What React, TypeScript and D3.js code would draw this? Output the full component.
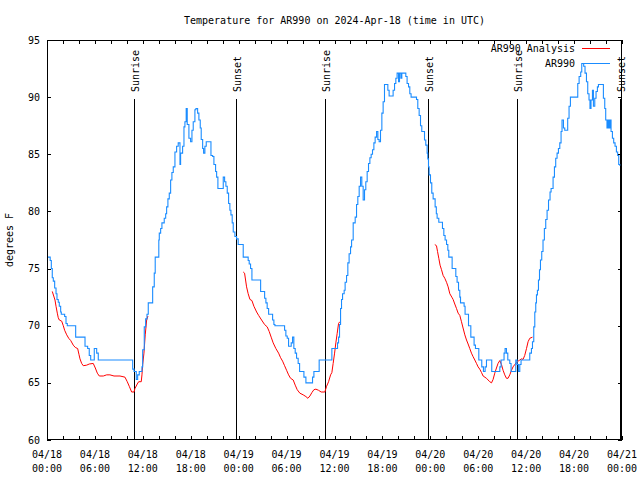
import React from "react";
import * as d3 from "d3";

// ---- data (hours since 2024-04-18 00:00 UTC) ----
const obsHours = [
  0, 0.4, 0.54, 0.66, 0.79, 0.96, 1.13, 1.25, 1.41, 1.54, 1.71, 1.79, 2.21, 2.38, 2.54, 3.59, 4.76, 5.09, 5.29, 5.47,
  5.92, 6.22, 6.42, 10.73, 10.9, 11.18, 11.35, 11.55, 11.89, 11.98, 12.18, 12.35, 12.52, 12.68, 13.23, 13.43, 13.55,
  14.0, 14.06, 14.23, 14.39, 14.68, 14.86, 14.98, 15.14, 15.31, 15.48, 15.64, 15.81, 16.02, 16.23, 16.43, 16.65,
  16.73, 16.98, 17.15, 17.27, 17.43, 17.56, 17.77, 17.98, 18.15, 18.31, 18.52, 18.65, 18.86, 19.02, 19.19, 19.31,
  19.49, 19.61, 19.77, 19.94, 20.53, 20.74, 20.9, 21.11, 21.24, 21.4, 22.07, 22.24, 22.4, 22.57, 22.74, 22.9, 23.03,
  23.19, 23.32, 23.53, 23.74, 23.94, 24.57, 25.19, 25.32, 25.49, 25.66, 26.75, 27.25, 27.41, 27.57, 27.75, 28.25,
  28.41, 28.54, 29.75, 29.91, 30.08, 30.25, 30.58, 30.75, 30.91, 31.08, 31.25, 31.45, 31.63, 32.17, 32.42, 33.25,
  33.42, 34.08, 35.67, 36.38, 36.51, 36.63, 36.76, 36.88, 37.01, 37.21, 37.33, 37.51, 37.67, 37.83, 38.01, 38.14,
  38.34, 38.59, 38.76, 38.92, 39.09, 39.26, 39.42, 39.59, 39.76, 39.92, 40.09, 40.26, 40.43, 40.59, 40.76, 40.93,
  41.09, 41.27, 41.43, 41.59, 41.76, 41.93, 42.09, 42.26, 42.68, 42.84, 43.34, 43.52, 43.68, 43.84, 44.02, 44.14,
  44.31, 44.43, 44.93, 45.09, 45.27, 45.43, 45.59, 46.27, 46.43, 46.6, 46.77, 46.93, 47.27, 47.43, 47.6, 47.68,
  47.77, 47.85, 48.02, 48.18, 48.35, 48.6, 48.75, 48.85, 49.06, 49.52, 49.69, 49.85, 50.03, 50.19, 50.31, 50.73,
  51.19, 51.35, 51.53, 51.69, 51.78, 52.23, 52.35, 52.78, 53.07, 53.48, 53.65, 54.07, 54.44, 54.65, 54.86, 55.03,
  55.69, 56.7, 56.86, 57.23, 57.36, 57.53, 57.7, 57.95, 58.11, 58.7, 58.86, 59.03, 59.2, 59.36, 60.45, 60.66, 60.79,
  60.95, 61.08, 61.2, 61.29, 61.41, 61.54, 61.67, 61.79, 61.95, 62.11, 62.28, 62.45, 62.62, 62.8, 62.99, 63.12,
  63.37, 63.54, 63.7, 63.87, 64.04, 64.21, 64.37, 64.49, 64.67, 64.83, 65.2, 65.37, 65.54, 66.46, 66.63, 66.83,
  66.96, 67.2, 67.37, 67.55, 67.71, 67.87, 67.99, 68.12, 68.3, 68.42, 68.59, 68.75, 68.92, 69.05, 69.67, 69.84,
  69.96, 70.12, 70.25, 70.38, 70.5, 70.63, 70.8, 70.96, 71.13, 71.3, 71.46, 71.59, 71.72,
];
const obsTemps = [
  76.0, 75.7, 75.0, 74.2, 73.9, 73.3, 72.8, 72.3, 72.05, 71.7, 71.2, 71.0, 70.8, 70.2, 70.0, 69.0, 68.2, 68.0, 67.4, 67.0,
  68.0, 67.6, 67.0, 66.2, 66.0, 65.3, 65.7, 66.0, 66.4, 67.9, 69.9, 70.6, 71.0, 72.0, 73.4, 74.6, 76.0,
  77.5, 78.1, 78.5, 79.0, 79.4, 79.8, 80.4, 81.1, 81.6, 82.75, 83.4, 83.9, 85.2, 85.7, 86.0, 84.1,
  85.1, 85.7, 87.4, 87.85, 89.0, 87.6, 86.4, 86.1, 87.1, 87.85, 88.9, 89.0, 88.6, 88.0, 87.3, 86.3,
  85.5, 85.1, 85.7, 86.1, 84.9, 84.8, 84.1, 83.5, 83.0, 82.0, 83.0, 82.6, 82.2, 81.6, 80.7, 80.1, 79.7,
  79.0, 78.2, 77.8, 77.6, 77.1, 76.0, 75.7, 75.4, 75.0, 74.0, 73.0, 72.4, 72.0, 71.5, 71.0, 70.5,
  70.1, 70.0, 69.6, 69.1, 68.9, 68.2, 68.5, 69.0, 68.0, 67.6, 67.15, 66.7, 66.0, 65.5, 65.0, 65.5,
  66.0, 67.0, 68.0, 68.5, 69.0, 70.1, 71.5, 72.3, 72.8, 73.1, 73.8, 74.4, 75.5, 76.3, 76.9, 77.5,
  79.0, 79.5, 80.6, 81.3, 82.2, 83.0, 82.2, 81.0, 81.9, 82.6, 83.5, 84.2, 84.7, 85.0, 85.4, 86.0,
  86.5, 87.0, 86.3, 86.1, 87.1, 88.6, 89.6, 91.1, 90.6, 90.1, 90.6, 91.2, 91.65, 92.1, 91.35, 92.1,
  91.65, 92.1, 91.8, 91.2, 90.9, 90.3, 90.0, 89.8, 89.0, 88.4, 87.5, 87.0, 86.25, 85.8, 85.1, 84.6,
  83.9, 83.2, 82.5, 81.6, 81.1, 80.4, 79.8, 79.4, 79.05, 78.5, 77.9, 77.5, 77.1, 76.6, 76.0, 75.0,
  74.3, 73.8, 73.1, 72.5, 72.0, 71.7, 71.0, 70.0, 69.0, 68.3, 68.0, 67.0, 66.4, 66.0, 66.4, 67.0,
  66.0, 66.4, 67.0, 67.6, 68.0, 67.6, 67.0, 66.7, 66.0, 67.0, 66.6, 66.0, 66.6, 67.0, 67.6, 68.0, 68.6,
  69.9, 71.2, 72.0, 72.7, 73.1, 74.0, 74.9, 75.75, 76.5, 77.5, 78.5, 79.3, 80.1, 81.0, 81.7, 82.0,
  83.0, 83.9, 84.65, 85.1, 85.5, 86.0, 87.0, 88.0, 87.3, 87.1, 88.15, 89.2, 90.0, 91.2, 91.8, 92.2,
  92.95, 92.7, 92.1, 91.35, 90.3, 89.75, 89.0, 89.75, 90.6, 89.2, 89.9, 90.5, 90.9, 91.1, 89.9, 89.0,
  88.0, 87.3, 88.0, 87.3, 88.0, 87.0, 86.4, 86.0, 85.7, 85.2, 84.9, 84.1, 84.0,
];

// Analysis series: three night-time segments
const analysisHours1 = [
  0.66, 1.0, 1.13, 1.29, 1.41, 1.54, 1.84, 2.04, 2.21, 2.47, 2.72, 2.97, 3.29, 3.54, 3.84, 4.0, 4.13, 4.34, 4.54,
  4.97, 5.29, 5.79, 6.05, 6.3, 6.55, 7.05, 7.47, 7.88, 8.39, 9.14, 9.76, 10.05, 10.3, 10.6, 10.89, 11.01, 11.3,
  11.48, 11.8, 11.89, 11.98, 12.14, 12.3, 12.48, 12.64,
];
const analysisTemps1 = [
  73.0, 72.25, 71.7, 71.1, 70.7, 70.5, 70.4, 70.0, 69.6, 69.2, 68.9, 68.7, 68.3, 68.1, 68.0, 67.5, 67.1, 66.7, 66.5,
  66.55, 66.65, 66.7, 66.3, 65.85, 65.6, 65.6, 65.7, 65.7, 65.6, 65.6, 65.5, 65.1, 64.7, 64.2, 64.2, 64.5, 64.9,
  65.1, 65.1, 65.7, 66.6, 67.6, 69.2, 70.5, 70.85,
];
const analysisHours2 = [
  24.57, 24.74, 24.99, 25.19, 25.41, 25.66, 25.91, 26.25, 26.5, 26.87, 27.25, 27.57, 27.82, 28.07, 28.32, 28.66,
  29.0, 29.25, 29.5, 29.75, 30.0, 30.25, 30.5, 30.83, 31.08, 31.33, 31.66, 32.08, 32.42, 32.67, 32.92, 33.17, 33.42,
  33.67, 34.0, 34.33, 34.79, 35.01, 35.26, 35.51, 35.67, 35.83, 36.01, 36.17, 36.33, 36.51, 36.67,
];
const analysisTemps2 = [
  74.7, 74.6, 73.4, 72.8, 72.3, 72.2, 71.7, 71.2, 70.9, 70.5, 70.1, 69.9, 69.5, 69.0, 68.5, 68.0,
  67.6, 67.2, 66.9, 66.5, 66.1, 65.7, 65.4, 65.25, 64.8, 64.4, 64.1, 63.95, 63.8, 63.65, 63.85, 64.15, 64.4,
  64.45, 64.35, 64.2, 64.2, 64.7, 65.1, 65.7, 65.9, 66.7, 67.6, 68.5, 69.3, 70.2, 70.35,
];
const analysisHours3 = [
  48.56, 48.77, 48.9, 49.06, 49.22, 49.4, 49.6, 49.81, 50.03, 50.23, 50.44, 50.69, 50.85, 51.06, 51.28, 51.48,
  51.69, 51.9, 52.1, 52.32, 52.53, 52.73, 52.94, 53.15, 53.35, 53.57, 53.78, 53.98, 54.19, 54.41, 54.61, 55.03,
  55.44, 55.66, 55.86, 56.07, 56.28, 56.48, 56.7, 56.91, 57.11, 57.32, 57.53, 57.73, 57.95, 58.16, 58.36, 58.57,
  58.79, 58.99, 59.2, 59.41, 59.61, 59.82, 60.04, 60.24, 60.45, 60.79,
];
const analysisTemps3 = [
  77.1, 77.0, 76.5, 75.9, 75.3, 74.9, 74.4, 74.15, 73.8, 73.4, 72.8, 72.5, 72.3, 71.9, 71.5, 71.1,
  70.9, 70.35, 69.8, 69.2, 68.75, 68.4, 68.0, 67.6, 67.3, 67.0, 66.7, 66.4, 66.2, 65.9, 65.6, 65.4,
  65.1, 65.0, 65.3, 65.85, 66.3, 66.7, 66.95, 66.6, 66.1, 65.7, 65.4, 65.4, 65.7, 66.1, 66.4, 66.6,
  66.8, 66.9, 67.0, 67.1, 67.05, 67.4, 68.0, 68.6, 68.9, 69.0,
];

const sunEventHours = [10.93, 23.7, 34.84, 47.73, 58.87, 71.78];
const sunEventLabels = ["Sunrise", "Sunset", "Sunrise", "Sunset", "Sunrise", "Sunset"];

const xTickHours = [0, 6, 12, 18, 24, 30, 36, 42, 48, 54, 60, 66, 72];
const xTickDates = ["04/18", "04/18", "04/18", "04/18", "04/19", "04/19", "04/19", "04/19", "04/20", "04/20", "04/20", "04/20", "04/21"];
const xTickTimes = ["00:00", "06:00", "12:00", "18:00", "00:00", "06:00", "12:00", "18:00", "00:00", "06:00", "12:00", "18:00", "00:00"];
const yTicks = [60, 65, 70, 75, 80, 85, 90, 95];

const seriesNames = ["AR990 Analysis", "AR990"];
const seriesColors = ["#ff0000", "#1a8cff"];

const W = 640;
const H = 480;
const L = 47;
const R = 622;
const T = 40;
const B = 440;
const FONT = "'DejaVu Sans Mono', monospace";

export default function App() {
  const x = d3.scaleLinear().domain([0, 72]).range([L, R]);
  const y = d3.scaleLinear().domain([60, 95]).range([B, T]);

  const obs = obsHours.map((h, i) => [h, obsTemps[i]] as [number, number]);
  const stepLine = d3
    .line<[number, number]>()
    .x((d) => x(d[0]))
    .y((d) => y(d[1]))
    .curve(d3.curveStepAfter);
  const linLine = d3
    .line<[number, number]>()
    .x((d) => x(d[0]))
    .y((d) => y(d[1]));

  const analysisSegs = [
    [analysisHours1, analysisTemps1],
    [analysisHours2, analysisTemps2],
    [analysisHours3, analysisTemps3],
  ].map(([hs, ts]) => hs.map((h, i) => [h, ts[i]] as [number, number]));

  const minorX = d3.range(0, 72.001, 2);

  return (
    <svg width={W} height={H} style={{ display: "block", position: "absolute", left: 0, top: 0, background: "#fff" }} fontFamily={FONT} fontSize={10}>
      <rect x={0} y={0} width={W} height={H} fill="#fff" />
      {/* title */}
      <text x={(L + R) / 2} y={24} textAnchor="middle" fill="#000">
        Temperature for AR990 on 2024-Apr-18 (time in UTC)
      </text>

      {/* sunrise / sunset lines */}
      {sunEventHours.map((h, i) => {
        const px = Math.round(x(h)) + 0.5;
        return (
          <g key={"s" + i}>
            <line x1={px} x2={px} y1={99} y2={B} stroke="#000" strokeWidth={1} shapeRendering="crispEdges" />
            <text transform={`translate(${px + 4.5},92) rotate(-90)`} textAnchor="start" fill="#000">
              {sunEventLabels[i]}
            </text>
          </g>
        );
      })}

      {/* data */}
      <g clipPath="url(#plotclip)">
        {analysisSegs.map((seg, i) => (
          <path key={"a" + i} d={linLine(seg) || ""} fill="none" stroke={seriesColors[0]} strokeWidth={1} />
        ))}
        <path d={stepLine(obs) || ""} fill="none" stroke={seriesColors[1]} strokeWidth={1.1} />
      </g>
      <defs>
        <clipPath id="plotclip">
          <rect x={L} y={T} width={R - L} height={B - T} />
        </clipPath>
      </defs>

      {/* border */}
      <rect x={L + 0.5} y={T + 0.5} width={R - L - 1} height={B - T - 1} fill="none" stroke="#000" strokeWidth={1} shapeRendering="crispEdges" />

      {/* x ticks */}
      {minorX.map((h) => {
        const px = Math.round(x(h)) + 0.5;
        return (
          <g key={"xt" + h}>
            <line x1={px} x2={px} y1={B} y2={B - 4} stroke="#000" shapeRendering="crispEdges" />
            <line x1={px} x2={px} y1={T} y2={T + 4} stroke="#000" shapeRendering="crispEdges" />
          </g>
        );
      })}
      {xTickHours.map((h, i) => (
        <g key={"xl" + i}>
          <text x={x(h)} y={458} textAnchor="middle" fill="#000">
            {xTickDates[i]}
          </text>
          <text x={x(h)} y={472} textAnchor="middle" fill="#000">
            {xTickTimes[i]}
          </text>
        </g>
      ))}

      {/* y ticks */}
      {yTicks.map((v) => {
        const py = Math.round(y(v)) + 0.5;
        return (
          <g key={"yt" + v}>
            <line x1={L} x2={L + 4} y1={py} y2={py} stroke="#000" shapeRendering="crispEdges" />
            <line x1={R} x2={R - 4} y1={py} y2={py} stroke="#000" shapeRendering="crispEdges" />
            <text x={40} y={y(v) + 3.5} textAnchor="end" fill="#000">
              {v}
            </text>
          </g>
        );
      })}

      {/* y label */}
      <text transform={`translate(13,240) rotate(-90)`} textAnchor="middle" fill="#000">
        degrees F
      </text>

      {/* legend */}
      {seriesNames.map((n, i) => {
        const ly = 48 + i * 15;
        return (
          <g key={"lg" + i}>
            <text x={575} y={ly + 3.5} textAnchor="end" fill="#000">
              {n}
            </text>
            <line x1={582} x2={610} y1={ly + 0.5} y2={ly + 0.5} stroke={seriesColors[i]} strokeWidth={1} shapeRendering="crispEdges" />
          </g>
        );
      })}
    </svg>
  );
}
